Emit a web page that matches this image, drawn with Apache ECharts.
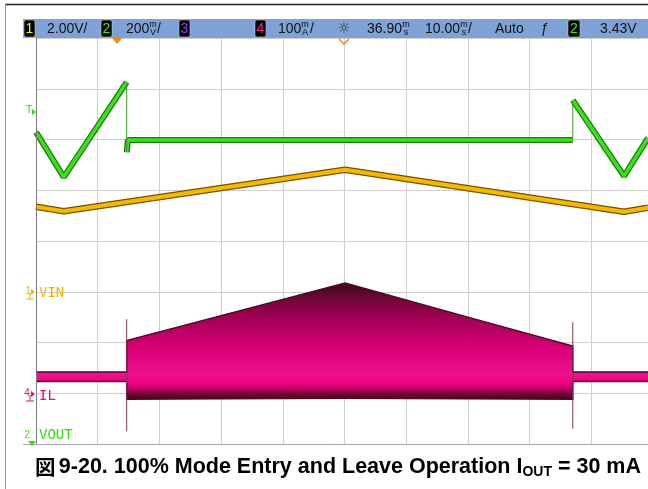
<!DOCTYPE html>
<html>
<head>
<meta charset="utf-8">
<script src="https://cdn.jsdelivr.net/npm/echarts@6/dist/echarts.min.js"></script>
<style>
html,body{margin:0;padding:0;background:#fff;}
#chart{width:648px;height:489px;}
</style>
</head>
<body>
<div id="chart"></div>
<script>
// ---- data (time in ms from left edge of screen, 10 ms/div) ----
const vinT  = [0, 4.5, 50.1, 95.3, 99.2];
const vinV  = [3.35, 3.17, 4.81, 3.15, 3.31];          // V, 2.00 V/div
const voutT = [0, 4.5, 14.7, 14.7, 14.9, 87.0, 87.0, 95.3, 99.2];
const voutV = [3.351, 3.174, 3.548, 3.272, 3.320, 3.320, 3.477, 3.178, 3.328]; // V, 200 mV/div
const ilT      = [0, 14.7, 14.7, 30.0, 50.1, 70.0, 87.0, 87.0, 99.2];
const ilTop    = [42, 42, 104, 153, 217, 150, 93, 42, 42];    // mA, 100 mA/div
const ilBottom = [23, 23, -12, -11, -10, -11, -12, 23, 23];
const ilSpikeT = [14.7, 87.0];
const ilSpikeTop = [146, 140];
const ilSpikeBottom = [-75, -70];

const xMin = 0, xMax = 100, xInterval = 10;
const vinAxis  = [-6, 10];      // ground marker 3 div from bottom
const voutAxis = [2.122, 3.722];
const ilAxis   = [-100, 700];

const chart = echarts.init(document.getElementById('chart'), null, {renderer:'canvas'});

function pairs(t, v){ return t.map((x,i)=>[x, v[i]]); }
function splitJumps(t, v){
  const thick = [], thin = [];
  for (let i=0;i<t.length;i++){
    if (i>0 && t[i]===t[i-1]) { thick.push([t[i], null]); thin.push([t[i-1], v[i-1]],[t[i], v[i]],[t[i], null]); }
    thick.push([t[i], v[i]]);
  }
  return {thick, thin};
}
const vout = splitJumps(voutT, voutV);
const spikes = [];
ilSpikeT.forEach((x,i)=>{ spikes.push([x, ilSpikeTop[i]], [x, ilSpikeBottom[i]], [x, null]); });

const base = {type:'line', symbol:'none', silent:true, animation:false, connectNulls:false};
const bandStops = [
  {offset:0, color:'#3e041c'},
  {offset:0.12, color:'#6a0836'},
  {offset:0.32, color:'#a8005a'},
  {offset:0.55, color:'#d60074'},
  {offset:0.78, color:'#f0108c'},
  {offset:0.87, color:'#ea0082'},
  {offset:0.94, color:'#8a0440'},
  {offset:1, color:'#3e041c'}];

function unit(x, top, bottom){
  return [
    {type:'text', style:{x:x, y:25, text:top, fill:'#111', font:'9px "Liberation Sans"', align:'center', verticalAlign:'middle'}, z:102},
    {type:'text', style:{x:x, y:32.5, text:bottom, fill:'#111', font:'9px "Liberation Sans"', align:'center', verticalAlign:'middle'}, z:102}];
}
function txt(x, s, opts){ return Object.assign({type:'text', style:{x:x, y:29, text:s, fill:'#111', font:'14px "Liberation Sans"', verticalAlign:'middle'}, z:102}, opts||{}); }
function chBox(x, d, color, w){
  return [{type:'rect', shape:{x:x, y:20, width:w||11, height:17, r:2}, style:{fill:'#000', stroke:'#ddd', lineWidth:0.5}, z:101},
          {type:'text', style:{x:x+(w||11)/2, y:29, text:d, fill:color, font:'14px "Liberation Sans"', align:'center', verticalAlign:'middle'}, z:102}];
}

const option = {
  animation:false,
  backgroundColor:'#ffffff',
  grid:{left:36, top:38, width:617, height:406, outerBoundsMode:'none', containLabel:false},
  xAxis:{type:'value', min:xMin, max:xMax, interval:xInterval,
    axisLine:{show:false}, axisTick:{show:false}, axisLabel:{show:false},
    splitLine:{show:true, lineStyle:{color:'#cfcfcf', width:1}}},
  yAxis:[
    {type:'value', min:0, max:8, interval:1, axisLabel:{show:false}, axisTick:{show:false},
      axisLine:{show:false}, splitLine:{show:true, lineStyle:{color:'#cfcfcf', width:1}}},
    {type:'value', min:vinAxis[0], max:vinAxis[1], show:false, splitLine:{show:false}},
    {type:'value', min:voutAxis[0], max:voutAxis[1], show:false, splitLine:{show:false}},
    {type:'value', min:ilAxis[0], max:ilAxis[1], show:false, splitLine:{show:false}}
  ],
  series:[
    {type:'custom', name:'IL', yAxisIndex:3, silent:true, z:3, data:[[ilT[0], ilTop[0]]],
      renderItem:function(params, api){
        const top = ilT.map((t,i)=>api.coord([t, ilTop[i]]));
        const bot = ilT.map((t,i)=>api.coord([t, ilBottom[i]]));
        const yT = api.coord([0, Math.max.apply(null, ilTop)])[1];
        const yB = api.coord([0, Math.min.apply(null, ilBottom)])[1];
        return {type:'group', children:[
          {type:'polygon', shape:{points: top.concat(bot.slice().reverse())},
            style:{fill:new echarts.graphic.LinearGradient(0, yT, 0, yB, bandStops, true)}},
          {type:'polyline', shape:{points:top}, style:{stroke:'#4a0a26', lineWidth:1.5, fill:null}},
          {type:'polyline', shape:{points:bot}, style:{stroke:'#4a0a26', lineWidth:1.5, fill:null}}
        ]};
      }},
    Object.assign({}, base, {name:'ILspike', yAxisIndex:3, data:spikes,
      lineStyle:{color:'#8a3060', width:1}, z:4}),
    Object.assign({}, base, {name:'VINedge', yAxisIndex:1, data:pairs(vinT, vinV),
      lineStyle:{color:'#6e5400', width:6.5}, z:5}),
    Object.assign({}, base, {name:'VIN', yAxisIndex:1, data:pairs(vinT, vinV),
      lineStyle:{color:'#f7b900', width:4}, z:6}),
    Object.assign({}, base, {name:'VOUTedge', yAxisIndex:2, data:vout.thick,
      lineStyle:{color:'#1f7a0c', width:6}, z:5}),
    Object.assign({}, base, {name:'VOUT', yAxisIndex:2, data:vout.thick,
      lineStyle:{color:'#3be01c', width:3.5}, z:6}),
    Object.assign({}, base, {name:'VOUTjump', yAxisIndex:2, data:vout.thin,
      lineStyle:{color:'#3a9a2a', width:1}, z:6})
  ],
  graphic:[
    {type:'line', shape:{x1:5, y1:4.5, x2:648, y2:4.5}, style:{stroke:'#222', lineWidth:1.5}, z:100},
    {type:'line', shape:{x1:5.5, y1:4, x2:5.5, y2:489}, style:{stroke:'#999', lineWidth:1}, z:100},
    {type:'line', shape:{x1:36.5, y1:38, x2:36.5, y2:444}, style:{stroke:'#7a7a7a', lineWidth:1}, z:50},
    {type:'line', shape:{x1:23, y1:444.5, x2:648, y2:444.5}, style:{stroke:'#a8a8a8', lineWidth:1}, z:50},
    {type:'rect', shape:{x:23, y:19, width:625, height:19}, style:{fill:'#7ea2d6'}, z:100}
  ].concat(
    chBox(24, '1', '#f5f500'), [txt(47, '2.00V/')],
    chBox(101, '2', '#33ee22'), [txt(126, '200')], unit(153, 'm', 'V'), [txt(157, '/')],
    chBox(179, '3', '#b030ff'),
    chBox(255, '4', '#ff2090'), [txt(278, '100')], unit(305, 'm', 'A'), [txt(310, '/')],
    [txt(344, '☼', {style:{x:344, y:29, text:'☼', fill:'#333', font:'15px "DejaVu Sans"', align:'center', verticalAlign:'middle'}})],
    [txt(367, '36.90')], unit(406, 'm', 's'),
    [txt(425, '10.00')], unit(464, 'm', 's'), [txt(468, '/')],
    [txt(495, 'Auto')],
    [txt(545, 'ƒ', {style:{x:545, y:29, text:'ƒ', fill:'#111', font:'14px "Liberation Sans"', align:'center', verticalAlign:'middle'}})],
    chBox(568, '2', '#33ee22', 12), [txt(600, '3.43V')],
  [
    {type:'polygon', shape:{points:[[112,38],[122,38],[117,44]]}, style:{fill:'#f08a10'}, z:60},
    {type:'polyline', shape:{points:[[339,39],[344,44],[349,39]]}, style:{stroke:'#f08a10', lineWidth:1.5, fill:null}, z:60},
    {type:'text', style:{x:29, y:110, text:'T', fill:'#33dd11', font:'11px "Liberation Sans"', align:'center', verticalAlign:'middle'}, z:60},
    {type:'polygon', shape:{points:[[32,109],[36,112],[32,115]]}, style:{fill:'#33dd11'}, z:60},
    {type:'text', style:{x:28, y:291, text:'1', fill:'#f0b400', font:'10px "Liberation Sans"', align:'center', verticalAlign:'middle'}, z:60},
    {type:'polygon', shape:{points:[[31,289],[35,292],[31,295]]}, style:{fill:'#f0b400'}, z:60},
    {type:'line', shape:{x1:30, y1:293, x2:30, y2:299}, style:{stroke:'#f0b400', lineWidth:1}, z:60},
    {type:'line', shape:{x1:26, y1:299, x2:34, y2:299}, style:{stroke:'#f0b400', lineWidth:1}, z:60},
    {type:'text', style:{x:39, y:293, text:'VIN', fill:'#f0b400', font:'14px "DejaVu Sans Mono"', verticalAlign:'middle'}, z:60},
    {type:'text', style:{x:27, y:393, text:'4', fill:'#e0107a', font:'10px "Liberation Sans"', align:'center', verticalAlign:'middle'}, z:60},
    {type:'polygon', shape:{points:[[31,391],[35,394],[31,397]]}, style:{fill:'#e0107a'}, z:60},
    {type:'line', shape:{x1:30, y1:395, x2:30, y2:401}, style:{stroke:'#e0107a', lineWidth:1}, z:60},
    {type:'line', shape:{x1:26, y1:401, x2:34, y2:401}, style:{stroke:'#e0107a', lineWidth:1}, z:60},
    {type:'text', style:{x:39, y:396, text:'IL', fill:'#e0107a', font:'14px "DejaVu Sans Mono"', verticalAlign:'middle'}, z:60},
    {type:'text', style:{x:27, y:435, text:'2', fill:'#33dd11', font:'10px "Liberation Sans"', align:'center', verticalAlign:'middle'}, z:60},
    {type:'polygon', shape:{points:[[28,441],[36,441],[32,446]]}, style:{fill:'#33dd11'}, z:60},
    {type:'text', style:{x:39, y:435, text:'VOUT', fill:'#33dd11', font:'14px "DejaVu Sans Mono"', verticalAlign:'middle'}, z:60},
    {type:'text', z:100, style:{x:338, y:467, align:'center', verticalAlign:'middle',
      rich:{
        a:{font:'bold 21.5px "Liberation Sans"', fill:'#000'},
        j:{font:'bold 20.5px "Noto Sans CJK JP"', fill:'#000'},
        s:{font:'bold 14px "Liberation Sans"', fill:'#000', padding:[10,0,0,0]}
      },
      text:'{j|図} {a|9-20. 100% Mode Entry and Leave Operation I}{s|OUT}{a| = 30 mA}'}}
  ])
};
chart.setOption(option);
</script>
</body>
</html>
